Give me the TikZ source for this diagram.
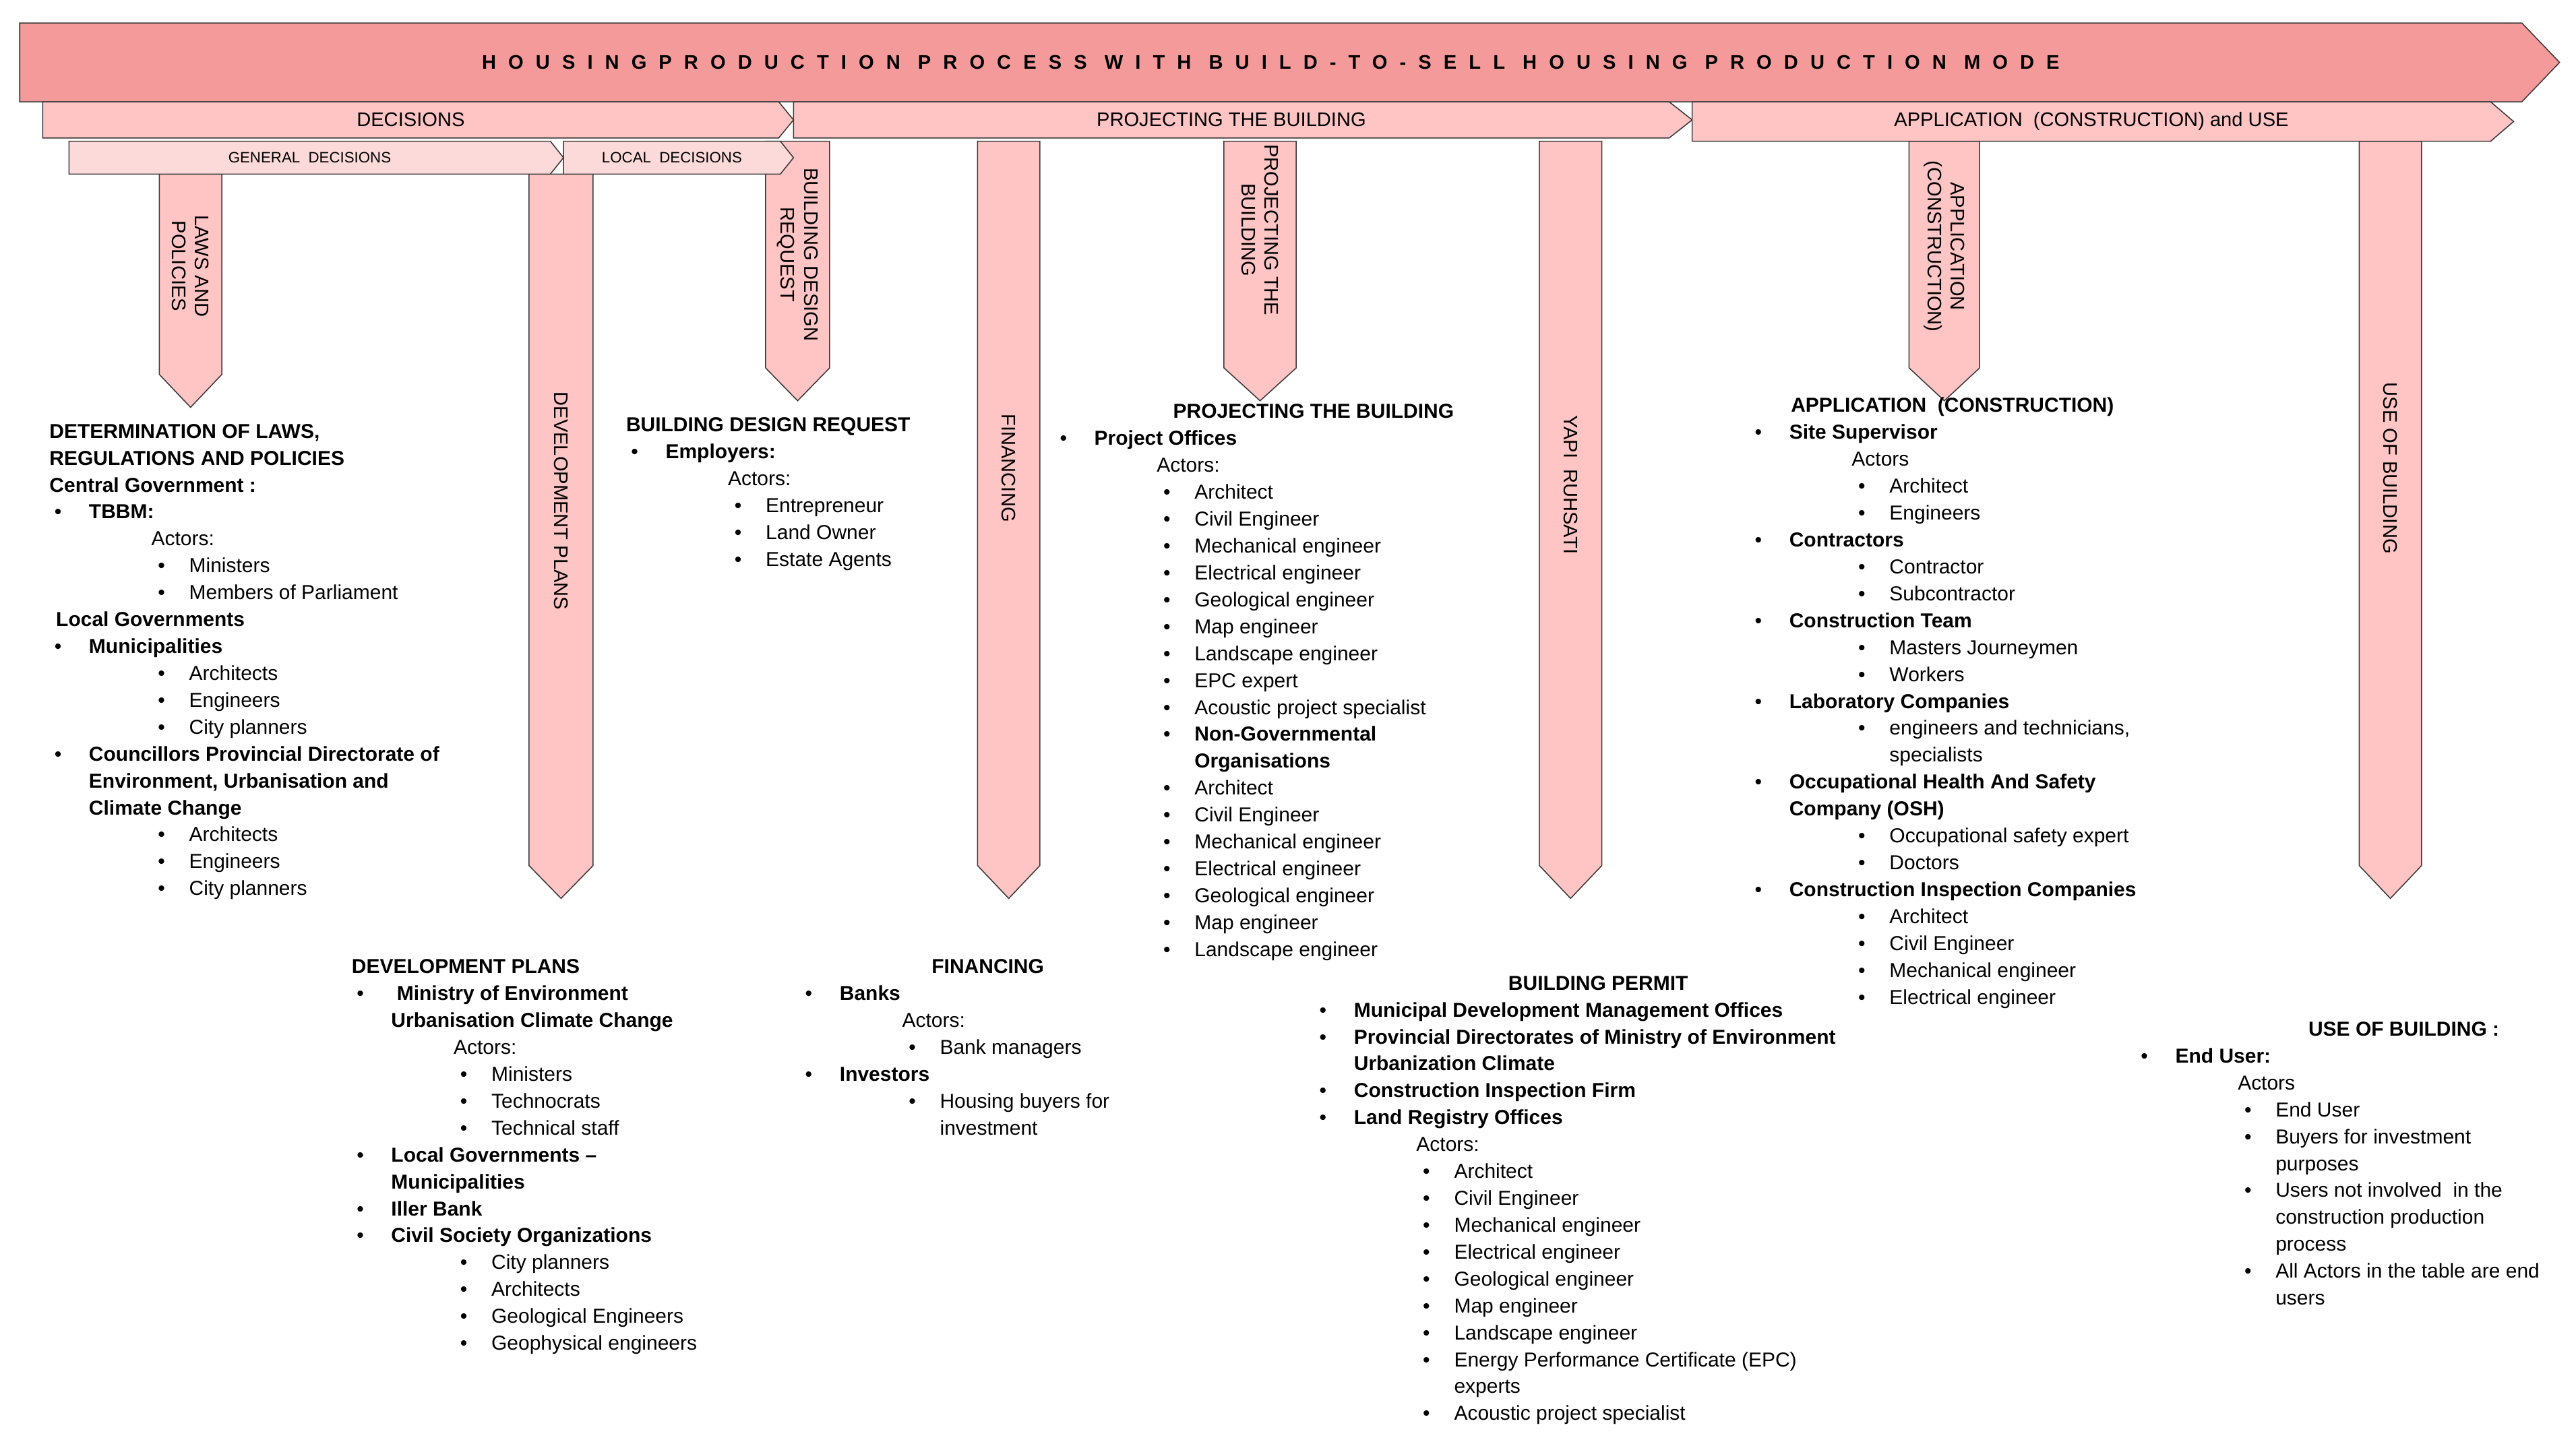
\documentclass[tikz,border=0pt]{standalone}
\usepackage{fontspec}
\setmainfont{Liberation Sans}
\usepackage{tikz}
\usetikzlibrary{positioning,calc}

\definecolor{bandred}{HTML}{F59A9A}
\definecolor{bandpink}{HTML}{FFC4C4}
\definecolor{bandlight}{HTML}{FCDADA}
\definecolor{edgegray}{HTML}{3A3A3A}

\tikzset{
    band/.style={draw=edgegray, line width=0.9pt, fill=bandpink},
    pillar/.style={draw=edgegray, line width=0.9pt, fill=bandpink},
    pillar text/.style={rotate=-90, align=center, inner sep=0, font=\fontsize{17}{20}\selectfont},
    blk/.style={anchor=north west, align=left, inner sep=0, font=\fontsize{17.5}{23.3}\selectfont}
}

% bullet levels
\newcommand\Lb[1]{\makebox[1.2cm][l]{\hspace*{0.15cm}\textbullet}\textbf{#1}}
\newcommand\Lc[1]{\hspace*{1.2cm}\textbf{#1}}
\newcommand\Ac[1]{\hspace*{3.1cm}#1}
\newcommand\Lm[1]{\hspace*{3.1cm}\makebox[1.15cm][l]{\hspace*{0.2cm}\textbullet}#1}
\newcommand\Ln[1]{\hspace*{4.25cm}#1}

% horizontal band arrow: style, xl, xr, yt, yb, tip, name, label
\newcommand\bandarrow[8]{%
    \draw[#1] (#2,#4) -- ({#3-#6},#4) -- (#3,{(#4+#5)/2}) -- ({#3-#6},#5) -- (#2,#5) -- cycle;
    \node[inner sep=0] (#7) at ({(#2+#3-#6)/2},{(#4+#5)/2}) {#8};}
% vertical pillar arrow: xl, xr, yt, yb, tip, name, label, label y
\newcommand\pillararrow[8]{%
    \draw[pillar] (#1,#3) -- (#2,#3) -- (#2,{#4-#5}) -- ({(#1+#2)/2},#4) -- (#1,{#4-#5}) -- cycle;
    \node[pillar text] (#6) at ({(#1+#2)/2},#8) {#7};}

\begin{document}
\begin{tikzpicture}[x=0.05cm, y=-0.05cm]
    \useasboundingbox (0,0) rectangle (1568,879);

    % pillars
    \pillararrow{97}{135}{106}{248}{20}{laws}{LAWS AND\\POLICIES}{162}
    \pillararrow{322}{361}{106}{547}{20}{devplans}{DEVELOPMENT PLANS}{305}
    \pillararrow{466}{505}{86}{244}{20}{designreq}{BUILDING DESIGN\\REQUEST}{155}
    \pillararrow{595}{633}{86}{547}{20}{financing}{FINANCING}{285}
    \pillararrow{745}{789}{86}{244}{20}{projecting}{PROJECTING THE\\BUILDING}{140}
    \pillararrow{937}{975}{86}{547}{20}{ruhsat}{YAPI \ RUHSATI}{295}
    \pillararrow{1162}{1205}{86}{244}{20}{application}{APPLICATION\\(CONSTRUCTION)}{150}
    \pillararrow{1436}{1474}{86}{547}{20}{usebuilding}{USE OF BUILDING}{285}

    % bands
    \bandarrow{band, fill=bandred}{12}{1558}{14}{62}{23}{title}{\fontsize{17}{20}\selectfont\bfseries\addfontfeature{LetterSpace=62}HOUSINGPRODUCTION PROCESS WITH BUILD-TO-SELL HOUSING PRODUCTION MODE}
    \bandarrow{band}{26}{483}{62}{84}{9}{decisions}{\fontsize{17}{20}\selectfont DECISIONS}
    \bandarrow{band}{483}{1030}{62}{84}{14}{projband}{\fontsize{17}{20}\selectfont PROJECTING THE BUILDING}
    \bandarrow{band}{1030}{1530}{62}{86}{14}{appband}{\fontsize{17}{20}\selectfont APPLICATION \ (CONSTRUCTION) and USE}
    \bandarrow{band, fill=bandlight}{42}{343}{86}{106}{8}{general}{\fontsize{13}{16}\selectfont GENERAL \ DECISIONS}
    \bandarrow{band, fill=bandlight}{343}{483}{86}{106}{8}{local}{\fontsize{13}{16}\selectfont LOCAL \ DECISIONS}

    % text blocks
    \node[blk] (lawstext) at (30,258) {\textbf{DETERMINATION OF LAWS,}\\
        \textbf{REGULATIONS AND POLICIES}\\
        \textbf{Central Government :}\\
        \Lb{TBBM:}\\
        \Ac{Actors:}\\
        \Lm{Ministers}\\
        \Lm{Members of Parliament}\\
        \hspace*{0.2cm}\textbf{Local Governments}\\
        \Lb{Municipalities}\\
        \Lm{Architects}\\
        \Lm{Engineers}\\
        \Lm{City planners}\\
        \Lb{Councillors Provincial Directorate of}\\
        \Lc{Environment, Urbanisation and}\\
        \Lc{Climate Change}\\
        \Lm{Architects}\\
        \Lm{Engineers}\\
        \Lm{City planners}};

    \node[blk] (devtext) at (214,584) {\textbf{DEVELOPMENT PLANS}\\
        \Lb{\ Ministry of Environment}\\
        \Lc{Urbanisation Climate Change}\\
        \Ac{Actors:}\\
        \Lm{Ministers}\\
        \Lm{Technocrats}\\
        \Lm{Technical staff}\\
        \Lb{Local Governments –}\\
        \Lc{Municipalities}\\
        \Lb{Iller Bank}\\
        \Lb{Civil Society Organizations}\\
        \Lm{City planners}\\
        \Lm{Architects}\\
        \Lm{Geological Engineers}\\
        \Lm{Geophysical engineers}};

    \node[blk] (designtext) at (381,254) {\textbf{BUILDING DESIGN REQUEST}\\
        \Lb{Employers:}\\
        \Ac{Actors:}\\
        \Lm{Entrepreneur}\\
        \Lm{Land Owner}\\
        \Lm{Estate Agents}};

    \node[blk] (fintext) at (487,584) {\hspace*{4cm}\textbf{FINANCING}\\
        \Lb{Banks}\\
        \Ac{Actors:}\\
        \Lm{Bank managers}\\
        \Lb{Investors}\\
        \Lm{Housing buyers for}\\
        \Ln{investment}};

    \node[blk] (projtext) at (642,246) {\hspace*{3.6cm}\textbf{PROJECTING THE BUILDING}\\
        \Lb{Project Offices}\\
        \Ac{Actors:}\\
        \Lm{Architect}\\
        \Lm{Civil Engineer}\\
        \Lm{Mechanical engineer}\\
        \Lm{Electrical engineer}\\
        \Lm{Geological engineer}\\
        \Lm{Map engineer}\\
        \Lm{Landscape engineer}\\
        \Lm{EPC expert}\\
        \Lm{Acoustic project specialist}\\
        \Lm{\textbf{Non-Governmental}}\\
        \Ln{\textbf{Organisations}}\\
        \Lm{Architect}\\
        \Lm{Civil Engineer}\\
        \Lm{Mechanical engineer}\\
        \Lm{Electrical engineer}\\
        \Lm{Geological engineer}\\
        \Lm{Map engineer}\\
        \Lm{Landscape engineer}};

    \node[blk] (permittext) at (800,594) {\hspace*{5.9cm}\textbf{BUILDING PERMIT}\\
        \Lb{Municipal Development Management Offices}\\
        \Lb{Provincial Directorates of Ministry of Environment}\\
        \Lc{Urbanization Climate}\\
        \Lb{Construction Inspection Firm}\\
        \Lb{Land Registry Offices}\\
        \Ac{Actors:}\\
        \Lm{Architect}\\
        \Lm{Civil Engineer}\\
        \Lm{Mechanical engineer}\\
        \Lm{Electrical engineer}\\
        \Lm{Geological engineer}\\
        \Lm{Map engineer}\\
        \Lm{Landscape engineer}\\
        \Lm{Energy Performance Certificate (EPC)}\\
        \Ln{experts}\\
        \Lm{Acoustic project specialist}};

    \node[blk] (apptext) at (1065,242) {\hspace*{1.25cm}\textbf{APPLICATION \ (CONSTRUCTION)}\\
        \Lb{Site Supervisor}\\
        \Ac{Actors}\\
        \Lm{Architect}\\
        \Lm{Engineers}\\
        \Lb{Contractors}\\
        \Lm{Contractor}\\
        \Lm{Subcontractor}\\
        \Lb{Construction Team}\\
        \Lm{Masters Journeymen}\\
        \Lm{Workers}\\
        \Lb{Laboratory Companies}\\
        \Lm{engineers and technicians,}\\
        \Ln{specialists}\\
        \Lb{Occupational Health And Safety}\\
        \Lc{Company (OSH)}\\
        \Lm{Occupational safety expert}\\
        \Lm{Doctors}\\
        \Lb{Construction Inspection Companies}\\
        \Lm{Architect}\\
        \Lm{Civil Engineer}\\
        \Lm{Mechanical engineer}\\
        \Lm{Electrical engineer}};

    \node[blk] (usetext) at (1300,622) {\hspace*{5.25cm}\textbf{USE OF BUILDING :}\\
        \Lb{End User:}\\
        \Ac{Actors}\\
        \Lm{End User}\\
        \Lm{Buyers for investment}\\
        \Ln{purposes}\\
        \Lm{Users not involved \ in the}\\
        \Ln{construction production}\\
        \Ln{process}\\
        \Lm{All Actors in the table are end}\\
        \Ln{users}};
\end{tikzpicture}
\end{document}
